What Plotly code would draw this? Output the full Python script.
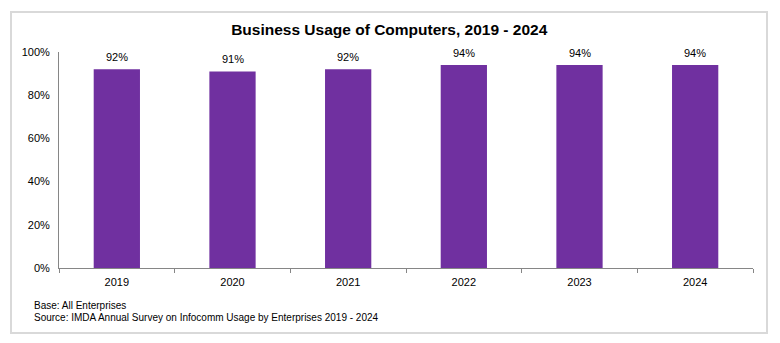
import plotly.graph_objects as go

# Share of enterprises using computers, by survey year
years = ["2019", "2020", "2021", "2022", "2023", "2024"]
usage_pct = [92, 91, 92, 94, 94, 94]
y_tick_vals = [0, 20, 40, 60, 80, 100]
y_tick_text = ["0%", "20%", "40%", "60%", "80%", "100%"]

title_text = "Business Usage of Computers, 2019 - 2024"
base_note = "Base: All Enterprises"
source_note = "Source: IMDA Annual Survey on Infocomm Usage by Enterprises 2019 - 2024"

W, H = 780, 343
L, R, T, B = 59, 27, 52, 75
plot_w = W - L - R
plot_h = H - T - B
FONT = "Liberation Sans, Arial"


def px_to_paper_x(px):
    return (px - L) / plot_w


def px_to_paper_y(py):
    return (H - B - py) / plot_h


fig = go.Figure(
    go.Bar(
        x=years,
        y=usage_pct,
        marker=dict(color="#7030A0", line=dict(width=0)),
        width=0.4,
        hoverinfo="skip",
    )
)

# value labels above each bar (category index positions on the x axis)
value_labels = [
    dict(
        text=f"{v}%",
        x=i,
        y=v,
        xref="x",
        yref="y",
        xanchor="center",
        yanchor="bottom",
        yshift=4,
        showarrow=False,
        font=dict(family=FONT, size=11, color="#000000"),
    )
    for i, v in enumerate(usage_pct)
]

notes = [
    dict(
        text=base_note,
        xref="paper",
        yref="paper",
        x=px_to_paper_x(32),
        y=px_to_paper_y(305),
        xanchor="left",
        yanchor="middle",
        showarrow=False,
        font=dict(family=FONT, size=10, color="#000000"),
    ),
    dict(
        text=source_note,
        xref="paper",
        yref="paper",
        x=px_to_paper_x(32),
        y=px_to_paper_y(317),
        xanchor="left",
        yanchor="middle",
        showarrow=False,
        font=dict(family=FONT, size=10, color="#000000"),
    ),
]

fig.update_layout(
    width=W,
    height=H,
    margin=dict(l=L, r=R, t=T, b=B),
    paper_bgcolor="#ffffff",
    plot_bgcolor="#ffffff",
    showlegend=False,
    title=dict(
        text=f"<b>{title_text}</b>",
        x=0.499,
        xref="container",
        xanchor="center",
        y=1 - 30 / H,
        yref="container",
        yanchor="middle",
        font=dict(family=FONT, size=15.5, color="#000000"),
    ),
    xaxis=dict(
        type="category",
        categoryorder="array",
        categoryarray=years,
        showgrid=False,
        showline=True,
        linecolor="#868686",
        linewidth=1,
        ticks="outside",
        tickson="boundaries",
        ticklen=4,
        tickcolor="#868686",
        ticklabelstandoff=4,
        tickfont=dict(family=FONT, size=11, color="#000000"),
        fixedrange=True,
    ),
    yaxis=dict(
        range=[0, 100],
        tickvals=y_tick_vals,
        ticktext=y_tick_text,
        showgrid=False,
        zeroline=False,
        showline=True,
        linecolor="#868686",
        linewidth=1,
        ticks="",
        ticklabelstandoff=6,
        tickfont=dict(family=FONT, size=11, color="#000000"),
        fixedrange=True,
    ),
    shapes=[
        dict(
            type="rect",
            xref="paper",
            yref="paper",
            x0=px_to_paper_x(11),
            x1=px_to_paper_x(767),
            y0=px_to_paper_y(333),
            y1=px_to_paper_y(12),
            line=dict(color="#d9d9d9", width=2),
            fillcolor="rgba(0,0,0,0)",
            layer="below",
        )
    ],
    annotations=value_labels + notes,
)

fig.write_html("out.html")
